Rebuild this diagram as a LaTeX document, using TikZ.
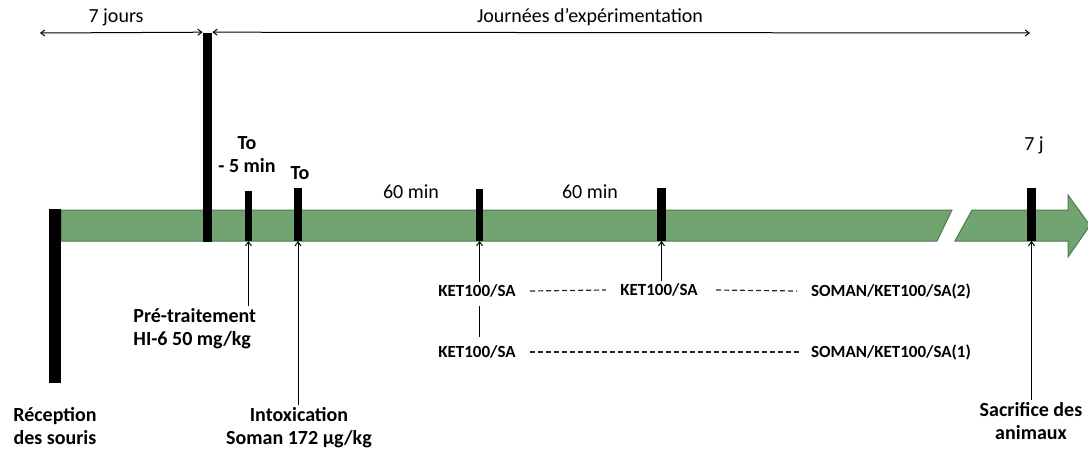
\documentclass[tikz,border=0pt]{standalone}
\usepackage{fontspec}
\setmainfont{Carlito}
\usetikzlibrary{arrows.meta, positioning, calc}
\definecolor{barfill}{RGB}{113,164,113}
\definecolor{bardraw}{RGB}{78,122,78}
\tikzset{
  tick/.style={
    rectangle, fill=black, inner sep=0pt,
    minimum width=3.5pt, minimum height=26pt
  },
  lbl/.style={
    font=\fontsize{10}{11.5}\selectfont\bfseries,
    align=center, inner sep=1pt
  },
  plain/.style={font=\fontsize{10}{12}\selectfont, inner sep=1pt},
  grp/.style={font=\fontsize{8.5}{10}\selectfont\bfseries, inner sep=1pt},
  line/.style={draw, line width=0.5pt, -{Straight Barb[length=2pt,width=3pt]}},
  span/.style={draw, line width=0.5pt, {Straight Barb[length=2pt,width=3pt]}-{Straight Barb[length=2pt,width=3pt]}},
  dashed line/.style={draw, black!85, line width=0.6pt, dash pattern=on 2.5pt off 1.5pt},
}

\begin{document}
\begin{tikzpicture}[x=0.5pt, y=-0.5pt]
  \useasboundingbox (0,0) rectangle (1088,450);

  % Timeline
  \filldraw[fill=barfill, draw=bardraw, line width=0.5pt]
    (61,210) -- (952,210) -- (937,241) -- (61,241) -- cycle;
  \filldraw[fill=barfill, draw=bardraw, line width=0.5pt]
    (972,210) -- (1068,210) -- (1068,195) -- (1090,225.5) -- (1068,257)
    -- (1068,241) -- (955,241) -- cycle;

  % Ticks
  \node[tick, minimum width=6pt, minimum height=87pt, anchor=north]
    (recep) at (55,209) {};
  \node[tick, minimum width=4.5pt, minimum height=104.5pt, anchor=south]
    (start) at (207.5,242) {};
  \node[tick, minimum height=25pt, anchor=south] (pre) at (248.5,241) {};
  \node[tick, minimum width=4pt, minimum height=26.5pt, anchor=south]
    (tzero) at (298,241) {};
  \node[tick, anchor=south] (ketA) at (479.5,241) {};
  \node[tick, minimum width=4.5pt, minimum height=26.5pt, anchor=south]
    (ketB) at (661.5,241) {};
  \node[tick, minimum width=4.5pt, minimum height=26.5pt, anchor=south]
    (sacr) at (1031.5,241) {};

  % Top labels
  \node[plain] (week) at (116,17) {7 jours};
  \node[plain] (days) at (590,17) {Journées d’expérimentation};
  \coordinate (weekstart) at (40,33);
  \coordinate (daysend) at (1030,33);
  \node[lbl] (pretop) at (247,155) {To\\- 5 min};
  \node[lbl] (ttop) at (300,173) {To};
  \node[plain] (gapA) at (411,192) {60 min};
  \node[plain] (gapB) at (590,192) {60 min};
  \node[plain] (endtop) at (1034,145) {7 j};

  % Bottom labels
  \node[lbl] (recept) at (55,426) {Réception\\des souris};
  \node[lbl, align=left, anchor=west] (pretxt) at (131,329)
    {Pré-traitement\\HI-6 50 mg/kg};
  \node[lbl] (intox) at (299,428) {Intoxication\\Soman 172 µg/kg};
  \node[lbl] (sacrtxt) at (1031,421) {Sacrifice des\\animaux};

  % Groups
  \node[grp] (ketA1) at (477,291) {KET100/SA};
  \node[grp] (ketB1) at (659,290) {KET100/SA};
  \node[grp] (soman2) at (891,291) {SOMAN/KET100/SA(2)};
  \node[grp] (ketA2) at (477,352) {KET100/SA};
  \node[grp] (soman1) at (891,352) {SOMAN/KET100/SA(1)};

  % Arrows
  \draw[span] (weekstart) -- (start.north west);
  \draw[span] (start.north east) -- (daysend);
  \draw[line] (pre.south |- pretxt.north) -- (pre.south);
  \draw[line] (tzero.south |- intox.north) -- (tzero.south);
  \draw[line] (ketA.south |- ketA1.north) -- (ketA.south);
  \draw[line] (ketB.south |- ketB1.north) -- (ketB.south);
  \draw[line] (sacr.south |- sacrtxt.north) -- (sacr.south);
  \draw[line width=0.5pt, -] ([yshift=-3pt]ketA.south |- ketA1.south)
    -- ([yshift=3pt]ketA.south |- ketA2.north);
  \draw[dashed line] ([xshift=6pt]ketA1.east) -- ([xshift=-6pt]ketB1.west);
  \draw[dashed line] ([xshift=8pt]ketB1.east) -- ([xshift=-6pt]soman2.west);
  \draw[dashed line] ([xshift=6pt]ketA2.east) -- ([xshift=-4pt]soman1.west);
\end{tikzpicture}
\end{document}
